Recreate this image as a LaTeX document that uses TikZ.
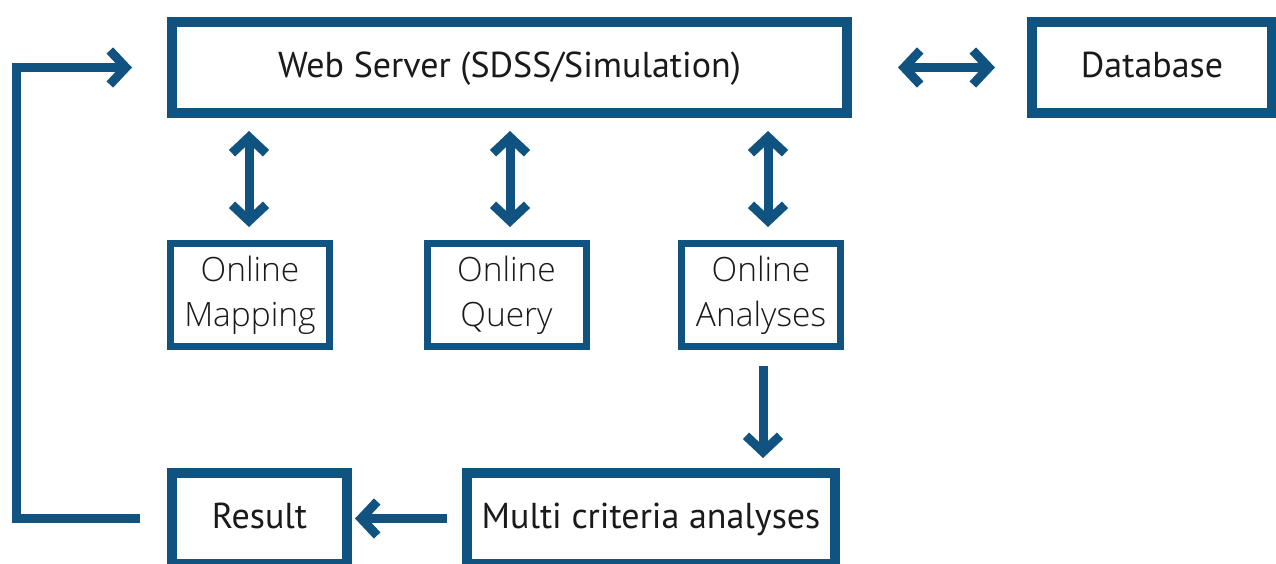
\documentclass[tikz,border=0pt]{standalone}
\usepackage{fontspec}
\setmainfont{PT Sans}
\newfontfamily\thinfont{Open Sans Light}
\usetikzlibrary{arrows.meta,calc}
\definecolor{flowblue}{RGB}{16,82,128}
\definecolor{inktext}{RGB}{26,26,26}
\tikzset{Chev/.tip={Straight Barb[sharp,length=16pt,width=34pt]}}
\begin{document}
\begin{tikzpicture}[x=1pt,y=-1pt,
  mainbox/.style={draw=flowblue, line width=10pt, fill=white, text=inktext,
    font=\fontsize{36}{40}\selectfont, inner sep=0pt, minimum height=91pt,
    text height=27pt, text depth=8pt},
  toolbox/.style={draw=flowblue, line width=7pt, fill=white, text=inktext,
    font=\thinfont\fontsize{33.5}{45}\selectfont, align=center,
    minimum width=159pt, minimum height=103pt, inner sep=0pt},
  link/.style={draw=flowblue, line width=9pt, line join=miter, line cap=butt}]
\path[use as bounding box] (0,0) rectangle (1276,563);
\clip (0,0) rectangle (1276,563);

% main row
\node[mainbox, minimum width=675pt] (ws) at (509.5,67.5) {Web Server (SDSS/Simulation)};
\node[mainbox, minimum width=240pt] (db) at (1152,67.5) {Database};

% online tools
\node[toolbox] (map) at (250,295) {Online\\Mapping};
\node[toolbox] (qry) at (506.5,295) {Online\\Query};
\node[toolbox] (ana) at (761,295) {Online\\Analyses};

% bottom row
\node[mainbox, minimum width=175pt] (res) at (259.5,518.5) {Result};
\node[mainbox, minimum width=368pt] (mca) at (651,518.5) {Multi criteria analyses};

% connectors
\draw[link, Chev-Chev, shorten <=46pt, shorten >=32pt] (ws.east) -- (db.west);
\draw[link, Chev-Chev, shorten <=13pt, shorten >=13pt] ([xshift=-1pt]map.north |- ws.south) -- ([xshift=-1pt]map.north);
\draw[link, Chev-Chev, shorten <=13pt, shorten >=13pt] ([xshift=3.5pt]qry.north |- ws.south) -- ([xshift=3.5pt]qry.north);
\draw[link, Chev-Chev, shorten <=13pt, shorten >=13pt] ([xshift=7pt]ana.north |- ws.south) -- ([xshift=7pt]ana.north);
\draw[link, -Chev, shorten <=16pt, shorten >=10pt] ([xshift=2pt]ana.south) -- ([xshift=2pt]ana.south |- mca.north);
\draw[link, -Chev, shorten <=15pt, shorten >=3pt] (mca.west) -- (res.west -| res.east);
\coordinate (loop) at (16,300);
\draw[link, -Chev, shorten <=27pt, shorten >=35pt]
  (res.west) -- (res.west -| loop) -- (ws.west -| loop) -- (ws.west);
\end{tikzpicture}
\end{document}
